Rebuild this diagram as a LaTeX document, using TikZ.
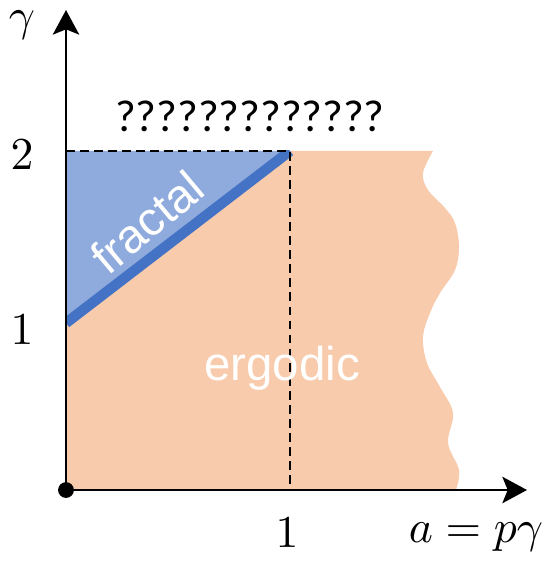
\documentclass[tikz,border=0pt]{standalone}
\usepackage{fontspec}
\newfontfamily\arialf{Liberation Sans}
\newfontfamily\calif{Carlito}
\usetikzlibrary{arrows.meta}
\definecolor{peach}{HTML}{F8CBAD}
\definecolor{lblue}{HTML}{8FAADC}
\definecolor{dblue}{HTML}{4472C4}
\begin{document}
\begin{tikzpicture}[x=0.02cm,y=-0.02cm,
  axis/.style={line width=1.4pt,-{Stealth[length=14pt,width=15pt,inset=3pt]}},
  guide/.style={line width=1.4pt, dash pattern=on 5pt off 3pt},
  numlab/.style={scale=2.6, inner sep=0pt},
  region/.style={text=white, font=\arialf\fontsize{27}{30}\selectfont, inner sep=0pt}]
\useasboundingbox (0,0) rectangle (545,563);
\coordinate (O) at (66,490);
\coordinate (Y1) at (66,323);
\coordinate (Y2) at (66,151);
\coordinate (T) at (290,151);
\coordinate (X1) at (290,490);
\coordinate (Ytip) at (66,10);
\coordinate (Xtip) at (527,490);
% ergodic region
\fill[peach] (O) -- (Y1) -- (T) -- plot[smooth, tension=0.6] coordinates {(433,151) (423,173) (428,190) (445,208) (455,223) (459,247) (455,270) (440,293) (430,313) (423,337) (427,363) (440,387) (453,413) (448,443) (459,470) (456,490)} -- cycle;
% fractal region
\fill[lblue] (Y2) -- (T) -- (Y1) -- cycle;
\begin{scope}
  \clip (66,151) rectangle (545,490);
  \draw[dblue, line width=5.9pt] (Y1) -- (T);
\end{scope}
\draw[guide] (Y2) -- (T) -- (X1);
% axes
\draw[axis] (O) -- (Ytip);
\draw[axis] (O) -- (Xtip);
\node[circle, fill, inner sep=0pt, minimum size=9pt] (dot) at (O) {};
% labels
\node[numlab] (gam) at (22,25) {$\gamma$};
\node[numlab] (l2) at (22,155) {$2$};
\node[numlab] (l1y) at (22,330) {$1$};
\node[numlab] (l1x) at (287,533) {$1$};
\node[numlab] (lab) at (476,537) {$a = p\gamma$};
\node[font=\calif\fontsize{25.5}{30}\selectfont, inner sep=0pt] (qq) at (250,116) {?????????????};
\node[region, rotate=40] (frac) at (147,222) {fractal};
\node[region] (erg) at (282,368) {ergodic};
\end{tikzpicture}
\end{document}
